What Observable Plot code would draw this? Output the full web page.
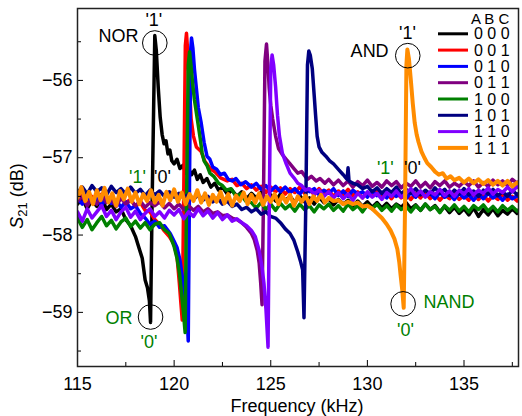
<!DOCTYPE html>
<html><head><meta charset="utf-8">
<script src="https://cdn.jsdelivr.net/npm/d3@7"></script>
<script src="https://cdn.jsdelivr.net/npm/@observablehq/plot@0.6"></script>
<style>body{margin:0;background:#fff} svg{display:block}</style>
</head><body><div id="chart"></div>
<script>
// Input states (A B C) and their colours
const states = ["0 0 0","0 0 1","0 1 0","0 1 1","1 0 0","1 0 1","1 1 0","1 1 1"];
const colors = ["#000000","#ff0000","#0000ff","#800080","#008000","#000080","#8000ff","#ff8c00"];

// [frequency kHz, S21 dB]
const s000 = [[115.00,-57.60],[115.25,-57.52],[115.50,-57.66],[115.75,-57.55],[116.00,-57.63],[116.25,-57.51],[116.50,-57.67],[116.75,-57.60],[117.00,-57.70],[117.25,-57.66],[117.50,-57.80],[117.75,-57.88],[118.00,-58.02],[118.20,-58.18],[118.35,-58.30],[118.50,-58.58],[118.62,-58.68],[118.72,-58.85],[118.78,-59.13],[118.86,-57.60],[119.00,-55.42],[119.08,-55.62],[119.18,-56.10],[119.28,-56.48],[119.38,-56.70],[119.48,-56.82],[119.58,-56.78],[119.68,-56.95],[119.78,-56.90],[119.88,-57.04],[120.00,-57.08],[120.15,-57.02],[120.30,-57.14],[120.45,-57.10],[120.60,-57.20],[120.75,-57.14],[120.90,-57.22],[121.05,-57.16],[121.20,-57.28],[121.35,-57.22],[121.50,-57.32],[121.70,-57.27],[121.90,-57.38],[122.10,-57.33],[122.30,-57.42],[122.50,-57.38],[122.75,-57.47],[123.00,-57.42],[123.25,-57.50],[123.50,-57.44],[123.75,-57.53],[124.00,-57.46],[124.25,-57.52],[124.50,-57.45],[124.75,-57.54],[125.00,-57.48],[125.25,-57.56],[125.50,-57.47],[125.75,-57.55],[126.00,-57.50],[126.25,-57.58],[126.50,-57.49],[126.75,-57.57],[127.00,-57.52],[127.25,-57.60],[127.50,-57.51],[127.75,-57.58],[128.00,-57.53],[128.25,-57.61],[128.50,-57.54],[128.75,-57.60],[129.00,-57.55],[129.25,-57.62],[129.50,-57.56],[129.75,-57.63],[130.00,-57.57],[130.25,-57.64],[130.50,-57.58],[130.75,-57.65],[131.00,-57.59],[131.25,-57.66],[131.50,-57.60],[131.75,-57.64],[132.00,-57.58],[132.25,-57.66],[132.50,-57.61],[132.75,-57.68],[133.00,-57.60],[133.25,-57.67],[133.50,-57.62],[133.75,-57.70],[134.00,-57.63],[134.25,-57.71],[134.50,-57.64],[134.75,-57.72],[135.00,-57.66],[135.25,-57.74],[135.50,-57.65],[135.75,-57.76],[136.00,-57.67],[136.25,-57.74],[136.50,-57.66],[136.75,-57.75],[137.00,-57.68],[137.25,-57.73],[137.50,-57.66],[137.75,-57.72],[138.00,-57.68]];

const s001 = [[115.00,-57.55],[115.25,-57.48],[115.50,-57.60],[115.75,-57.50],[116.00,-57.58],[116.25,-57.47],[116.50,-57.56],[116.75,-57.52],[117.00,-57.61],[117.25,-57.50],[117.50,-57.58],[117.75,-57.54],[118.00,-57.63],[118.25,-57.58],[118.50,-57.68],[118.75,-57.70],[119.00,-57.80],[119.25,-57.86],[119.50,-57.95],[119.75,-58.02],[120.00,-58.12],[120.15,-58.28],[120.27,-58.62],[120.35,-58.88],[120.42,-59.10],[120.50,-57.40],[120.58,-55.55],[120.64,-55.39],[120.72,-55.70],[120.80,-56.10],[120.88,-56.50],[121.00,-56.72],[121.15,-56.86],[121.40,-56.92],[121.60,-57.05],[121.90,-57.15],[122.10,-57.18],[122.40,-57.26],[122.75,-57.30],[123.00,-57.28],[123.25,-57.36],[123.50,-57.33],[123.75,-57.40],[124.00,-57.35],[124.25,-57.42],[124.50,-57.37],[124.75,-57.45],[125.00,-57.38],[125.25,-57.44],[125.50,-57.39],[125.75,-57.47],[126.00,-57.40],[126.25,-57.45],[126.50,-57.38],[126.75,-57.46],[127.00,-57.41],[127.25,-57.48],[127.50,-57.40],[127.75,-57.47],[128.00,-57.42],[128.25,-57.50],[128.50,-57.43],[128.75,-57.48],[129.00,-57.41],[129.25,-57.49],[129.50,-57.44],[129.75,-57.52],[130.00,-57.45],[130.25,-57.50],[130.50,-57.43],[130.75,-57.51],[131.00,-57.46],[131.25,-57.53],[131.50,-57.45],[131.75,-57.52],[132.00,-57.47],[132.25,-57.54],[132.50,-57.46],[132.75,-57.52],[133.00,-57.45],[133.25,-57.53],[133.50,-57.47],[133.75,-57.55],[134.00,-57.48],[134.25,-57.53],[134.50,-57.46],[134.75,-57.54],[135.00,-57.49],[135.25,-57.55],[135.50,-57.47],[135.75,-57.54],[136.00,-57.48],[136.25,-57.56],[136.50,-57.49],[136.75,-57.54],[137.00,-57.47],[137.25,-57.55],[137.50,-57.50],[137.75,-57.56],[138.00,-57.50]];

const s010 = [[115.00,-57.52],[115.25,-57.60],[115.50,-57.49],[115.75,-57.58],[116.00,-57.53],[116.25,-57.62],[116.50,-57.50],[116.75,-57.59],[117.00,-57.55],[117.25,-57.64],[117.50,-57.57],[117.75,-57.66],[118.00,-57.62],[118.25,-57.72],[118.50,-57.78],[118.75,-57.86],[119.00,-57.82],[119.25,-57.90],[119.50,-57.88],[119.80,-57.98],[120.00,-58.08],[120.15,-58.16],[120.30,-58.32],[120.40,-58.50],[120.50,-58.66],[120.60,-58.86],[120.68,-59.10],[120.73,-59.37],[120.80,-57.20],[120.86,-55.60],[120.90,-55.45],[120.97,-55.58],[121.05,-55.85],[121.15,-56.10],[121.25,-56.35],[121.40,-56.55],[121.55,-56.80],[121.70,-56.98],[121.85,-57.02],[122.00,-57.12],[122.20,-57.15],[122.40,-57.22],[122.60,-57.20],[122.80,-57.28],[123.00,-57.30],[123.20,-57.27],[123.45,-57.35],[123.70,-57.31],[124.00,-57.38],[124.25,-57.33],[124.50,-57.41],[124.75,-57.36],[125.00,-57.43],[125.25,-57.37],[125.50,-57.44],[125.75,-57.38],[126.00,-57.45],[126.25,-57.40],[126.50,-57.47],[126.75,-57.39],[127.00,-57.44],[127.25,-57.40],[127.50,-57.48],[127.75,-57.42],[128.00,-57.46],[128.25,-57.40],[128.50,-57.49],[128.75,-57.43],[129.00,-57.50],[129.25,-57.42],[129.50,-57.47],[129.75,-57.44],[130.00,-57.51],[130.25,-57.43],[130.50,-57.49],[130.75,-57.45],[131.00,-57.52],[131.25,-57.44],[131.50,-57.50],[131.75,-57.46],[132.00,-57.53],[132.25,-57.45],[132.50,-57.51],[132.75,-57.44],[133.00,-57.50],[133.25,-57.46],[133.50,-57.53],[133.75,-57.45],[134.00,-57.51],[134.25,-57.47],[134.50,-57.54],[134.75,-57.46],[135.00,-57.52],[135.25,-57.48],[135.50,-57.55],[135.75,-57.47],[136.00,-57.53],[136.25,-57.46],[136.50,-57.52],[136.75,-57.48],[137.00,-57.55],[137.25,-57.47],[137.50,-57.53],[137.75,-57.49],[138.00,-57.54]];

const s011 = [[115.00,-57.56],[115.25,-57.50],[115.50,-57.62],[115.75,-57.53],[116.00,-57.60],[116.25,-57.49],[116.50,-57.58],[116.75,-57.54],[117.00,-57.63],[117.25,-57.52],[117.50,-57.60],[117.75,-57.55],[118.00,-57.62],[118.25,-57.56],[118.50,-57.64],[118.75,-57.58],[119.00,-57.62],[119.25,-57.57],[119.50,-57.65],[119.75,-57.59],[120.00,-57.66],[120.25,-57.60],[120.50,-57.67],[120.75,-57.62],[121.00,-57.68],[121.25,-57.63],[121.50,-57.70],[121.75,-57.66],[122.00,-57.72],[122.25,-57.70],[122.50,-57.75],[122.75,-57.74],[123.00,-57.78],[123.25,-57.80],[123.50,-57.84],[123.75,-57.90],[124.00,-57.98],[124.15,-58.06],[124.30,-58.20],[124.40,-58.36],[124.48,-58.62],[124.55,-58.90],[124.62,-57.60],[124.70,-55.75],[124.78,-55.53],[124.85,-55.78],[124.92,-56.10],[125.00,-56.32],[125.10,-56.50],[125.25,-56.72],[125.40,-56.88],[125.60,-56.96],[125.80,-57.02],[126.00,-57.08],[126.20,-57.14],[126.40,-57.20],[126.60,-57.18],[126.90,-57.28],[127.10,-57.24],[127.35,-57.30],[127.55,-57.27],[127.80,-57.33],[128.00,-57.28],[128.25,-57.35],[128.50,-57.29],[128.75,-57.36],[129.00,-57.30],[129.25,-57.38],[129.50,-57.31],[129.75,-57.36],[130.00,-57.29],[130.25,-57.37],[130.50,-57.32],[130.75,-57.38],[131.00,-57.30],[131.25,-57.36],[131.50,-57.31],[131.75,-57.39],[132.00,-57.33],[132.25,-57.37],[132.50,-57.30],[132.75,-57.38],[133.00,-57.32],[133.25,-57.39],[133.50,-57.31],[133.75,-57.36],[134.00,-57.30],[134.25,-57.38],[134.50,-57.33],[134.75,-57.37],[135.00,-57.31],[135.25,-57.36],[135.50,-57.30],[135.75,-57.38],[136.00,-57.32],[136.25,-57.37],[136.50,-57.29],[136.75,-57.35],[137.00,-57.30],[137.25,-57.36],[137.50,-57.28],[137.75,-57.33],[138.00,-57.27]];

const s100 = [[115.00,-57.78],[115.25,-57.90],[115.50,-57.80],[115.75,-57.93],[116.00,-57.84],[116.25,-57.76],[116.50,-57.88],[116.75,-57.81],[117.00,-57.92],[117.25,-57.83],[117.50,-57.78],[117.75,-57.89],[118.00,-57.82],[118.25,-57.91],[118.50,-57.84],[118.75,-57.93],[119.00,-57.86],[119.25,-57.84],[119.50,-57.93],[119.75,-57.98],[120.00,-58.15],[120.15,-58.30],[120.28,-58.50],[120.40,-58.80],[120.48,-59.00],[120.57,-59.26],[120.65,-57.40],[120.73,-55.80],[120.80,-55.63],[120.87,-55.80],[120.95,-56.02],[121.05,-56.25],[121.20,-56.50],[121.35,-56.75],[121.45,-56.94],[121.55,-57.04],[121.70,-57.10],[121.85,-57.20],[122.05,-57.24],[122.30,-57.33],[122.50,-57.36],[122.70,-57.42],[122.95,-57.40],[123.20,-57.50],[123.45,-57.47],[123.70,-57.56],[124.00,-57.58],[124.25,-57.65],[124.50,-57.58],[124.75,-57.67],[125.00,-57.60],[125.25,-57.68],[125.50,-57.59],[125.75,-57.66],[126.00,-57.61],[126.25,-57.69],[126.50,-57.60],[126.75,-57.67],[127.00,-57.62],[127.25,-57.70],[127.50,-57.61],[127.75,-57.66],[128.00,-57.60],[128.25,-57.68],[128.50,-57.62],[128.75,-57.69],[129.00,-57.60],[129.25,-57.67],[129.50,-57.62],[129.75,-57.70],[130.00,-57.61],[130.25,-57.66],[130.50,-57.60],[130.75,-57.68],[131.00,-57.62],[131.25,-57.69],[131.50,-57.61],[131.75,-57.67],[132.00,-57.63],[132.25,-57.70],[132.50,-57.62],[132.75,-57.68],[133.00,-57.60],[133.25,-57.67],[133.50,-57.63],[133.75,-57.71],[134.00,-57.62],[134.25,-57.68],[134.50,-57.61],[134.75,-57.69],[135.00,-57.63],[135.25,-57.70],[135.50,-57.62],[135.75,-57.67],[136.00,-57.61],[136.25,-57.69],[136.50,-57.63],[136.75,-57.70],[137.00,-57.62],[137.25,-57.68],[137.50,-57.63],[137.75,-57.69],[138.00,-57.64]];

const s101 = [[115.00,-57.45],[115.25,-57.38],[115.50,-57.47],[115.75,-57.36],[116.00,-57.44],[116.25,-57.39],[116.50,-57.48],[116.75,-57.37],[117.00,-57.45],[117.25,-57.40],[117.50,-57.47],[117.75,-57.38],[118.00,-57.46],[118.25,-57.41],[118.50,-57.49],[118.75,-57.42],[119.00,-57.48],[119.25,-57.43],[119.50,-57.50],[119.75,-57.44],[120.00,-57.51],[120.25,-57.46],[120.50,-57.52],[120.75,-57.47],[121.00,-57.54],[121.25,-57.48],[121.50,-57.55],[121.75,-57.50],[122.00,-57.57],[122.25,-57.52],[122.50,-57.60],[122.75,-57.56],[123.00,-57.63],[123.25,-57.60],[123.50,-57.67],[123.75,-57.64],[124.00,-57.70],[124.25,-57.66],[124.50,-57.73],[124.75,-57.70],[125.00,-57.76],[125.25,-57.78],[125.50,-57.84],[125.75,-57.92],[126.00,-57.98],[126.20,-58.07],[126.40,-58.22],[126.55,-58.35],[126.65,-58.45],[126.72,-59.07],[126.82,-57.50],[126.90,-55.80],[126.97,-55.62],[127.05,-55.68],[127.15,-55.85],[127.25,-56.20],[127.32,-56.45],[127.40,-56.72],[127.50,-56.86],[127.65,-56.93],[127.85,-56.98],[128.05,-57.04],[128.25,-57.08],[128.50,-57.15],[128.75,-57.22],[128.95,-57.28],[129.00,-57.13],[129.05,-57.30],[129.25,-57.33],[129.50,-57.35],[129.75,-57.40],[130.00,-57.37],[130.25,-57.44],[130.50,-57.39],[130.75,-57.46],[131.00,-57.40],[131.25,-57.45],[131.50,-57.38],[131.75,-57.47],[132.00,-57.41],[132.25,-57.46],[132.50,-57.40],[132.75,-57.48],[133.00,-57.42],[133.25,-57.47],[133.50,-57.39],[133.75,-57.46],[134.00,-57.41],[134.25,-57.49],[134.50,-57.42],[134.75,-57.47],[135.00,-57.40],[135.25,-57.48],[135.50,-57.43],[135.75,-57.50],[136.00,-57.42],[136.25,-57.47],[136.50,-57.41],[136.75,-57.49],[137.00,-57.44],[137.25,-57.50],[137.50,-57.42],[137.75,-57.48],[138.00,-57.43]];

const s110 = [[115.00,-57.70],[115.25,-57.82],[115.50,-57.66],[115.75,-57.78],[116.00,-57.70],[116.25,-57.62],[116.50,-57.76],[116.75,-57.68],[117.00,-57.80],[117.25,-57.70],[117.50,-57.64],[117.75,-57.77],[118.00,-57.69],[118.25,-57.80],[118.50,-57.72],[118.75,-57.66],[119.00,-57.76],[119.25,-57.70],[119.50,-57.78],[119.75,-57.68],[120.00,-57.74],[120.25,-57.67],[120.50,-57.79],[120.75,-57.70],[121.00,-57.76],[121.25,-57.66],[121.50,-57.75],[121.75,-57.69],[122.00,-57.78],[122.25,-57.71],[122.50,-57.80],[122.75,-57.74],[123.00,-57.82],[123.25,-57.79],[123.50,-57.84],[123.75,-57.88],[124.00,-57.94],[124.20,-58.02],[124.40,-58.20],[124.55,-58.42],[124.65,-58.63],[124.75,-58.95],[124.86,-59.45],[124.93,-57.50],[125.00,-55.85],[125.07,-55.67],[125.15,-55.80],[125.25,-56.08],[125.35,-56.45],[125.45,-56.72],[125.60,-56.94],[125.80,-57.08],[126.00,-57.20],[126.20,-57.26],[126.40,-57.33],[126.60,-57.36],[126.80,-57.42],[127.00,-57.40],[127.25,-57.47],[127.50,-57.42],[127.75,-57.50],[128.00,-57.44],[128.25,-57.52],[128.50,-57.45],[128.75,-57.53],[129.00,-57.47],[129.25,-57.55],[129.50,-57.46],[129.75,-57.52],[130.00,-57.44],[130.25,-57.51],[130.50,-57.46],[130.75,-57.54],[131.00,-57.45],[131.25,-57.50],[131.50,-57.43],[131.75,-57.51],[132.00,-57.46],[132.25,-57.40],[132.50,-57.49],[132.75,-57.43],[133.00,-57.51],[133.25,-57.44],[133.50,-57.48],[133.75,-57.41],[134.00,-57.49],[134.25,-57.43],[134.50,-57.50],[134.75,-57.42],[135.00,-57.47],[135.25,-57.40],[135.50,-57.48],[135.75,-57.42],[136.00,-57.46],[136.25,-57.39],[136.50,-57.47],[136.75,-57.41],[137.00,-57.45],[137.25,-57.38],[137.50,-57.44],[137.75,-57.37],[138.00,-57.43]];

const s111 = [[115.00,-57.52],[115.20,-57.38],[115.40,-57.56],[115.60,-57.44],[115.80,-57.60],[116.00,-57.42],[116.20,-57.55],[116.40,-57.39],[116.60,-57.58],[116.80,-57.46],[117.00,-57.62],[117.20,-57.43],[117.40,-57.54],[117.60,-57.40],[117.80,-57.57],[118.00,-57.45],[118.20,-57.60],[118.40,-57.47],[118.60,-57.56],[118.80,-57.42],[119.00,-57.58],[119.20,-57.48],[119.40,-57.62],[119.60,-57.44],[119.80,-57.55],[120.00,-57.41],[120.20,-57.57],[120.40,-57.45],[120.60,-57.60],[120.80,-57.47],[121.00,-57.56],[121.20,-57.42],[121.40,-57.58],[121.60,-57.46],[121.80,-57.61],[122.00,-57.48],[122.20,-57.57],[122.40,-57.44],[122.60,-57.59],[122.80,-57.47],[123.00,-57.62],[123.20,-57.49],[123.40,-57.56],[123.60,-57.45],[123.80,-57.60],[124.00,-57.48],[124.20,-57.58],[124.40,-57.46],[124.60,-57.61],[124.80,-57.50],[125.00,-57.57],[125.20,-57.47],[125.40,-57.60],[125.60,-57.49],[125.80,-57.58],[126.00,-57.48],[126.20,-57.62],[126.40,-57.50],[126.60,-57.57],[126.80,-57.49],[127.00,-57.60],[127.20,-57.50],[127.40,-57.56],[127.60,-57.48],[127.80,-57.58],[128.00,-57.52],[128.25,-57.56],[128.50,-57.55],[128.75,-57.60],[129.00,-57.57],[129.25,-57.60],[129.50,-57.58],[129.75,-57.63],[130.00,-57.62],[130.25,-57.66],[130.50,-57.72],[130.75,-57.78],[131.00,-57.86],[131.20,-57.94],[131.40,-58.05],[131.55,-58.18],[131.65,-58.35],[131.72,-58.52],[131.80,-58.70],[131.88,-58.94],[131.95,-57.60],[132.02,-55.80],[132.07,-55.60],[132.15,-55.72],[132.25,-56.00],[132.35,-56.30],[132.45,-56.55],[132.55,-56.70],[132.65,-56.80],[132.80,-56.92],[132.95,-57.00],[133.10,-57.07],[133.30,-57.12],[133.50,-57.18],[133.70,-57.22],[133.90,-57.20],[134.10,-57.27],[134.30,-57.24],[134.50,-57.29],[134.75,-57.26],[135.00,-57.32],[135.25,-57.27],[135.50,-57.33],[135.75,-57.28],[136.00,-57.34],[136.25,-57.29],[136.50,-57.35],[136.75,-57.30],[137.00,-57.36],[137.25,-57.30],[137.50,-57.37],[137.75,-57.32],[138.00,-57.36]];

const series = [s000, s001, s010, s011, s100, s101, s110, s111];

// Axis ticks
const xMajorTicks = [115, 120, 125, 130, 135];
const xMinorTicks = [117.5, 122.5, 127.5, 132.5, 137.5];
const yMajorTicks = [-59, -58, -57, -56];
const yMinorTicks = [-59.5, -58.5, -57.5, -56.5, -55.5];

// Annotations (data coordinates)
const labelsMiddle = [
  {f:118.95, v:-55.22, t:"'1'", c:"#000"},
  {f:118.70, v:-59.39, t:"'0'", c:"#008000"},
  {f:118.10, v:-57.25, t:"'1'", c:"#008000"},
  {f:119.40, v:-57.25, t:"'0'", c:"#000"},
  {f:132.07, v:-55.39, t:"'1'", c:"#000"},
  {f:131.97, v:-59.23, t:"'0'", c:"#008000"},
  {f:130.93, v:-57.14, t:"'1'", c:"#008000"},
  {f:132.33, v:-57.14, t:"'0'", c:"#000"}
];
const labelsEnd = [
  {f:118.16, v:-55.43, t:"NOR", c:"#000"},
  {f:117.85, v:-59.08, t:"OR", c:"#008000"},
  {f:131.10, v:-55.62, t:"AND", c:"#000"}
];
const labelsStart = [
  {f:132.90, v:-58.87, t:"NAND", c:"#008000"}
];
const circles = [
  {f:119.00, v:-55.516},
  {f:118.78, v:-59.06},
  {f:132.09, v:-55.68},
  {f:131.85, v:-58.89}
];

const W = 522, H = 416;
const plot = Plot.plot({
  width: W, height: H,
  marginLeft: 77, marginRight: 4, marginTop: 8, marginBottom: 50,
  style: {fontFamily: "'Liberation Sans', Arial, sans-serif", fontSize: "18px", color: "#000", background: "#fff"},
  x: {domain: [115, 137.82], label: null},
  y: {domain: [-59.7, -55.07], label: null},
  marks: [
    ...series.map((s, i) => Plot.line(s, {
      x: d => d[0], y: d => d[1], stroke: colors[i],
      strokeWidth: i === 7 ? 4 : 3.5, strokeLinejoin: "round", clip: true
    })),
    Plot.dot(circles, {x: "f", y: "v", r: 12.3, stroke: "#000", strokeWidth: 1, fill: "none"}),
    Plot.text(labelsMiddle, {x: "f", y: "v", text: "t", fill: "c", fontSize: 18, textAnchor: "middle"}),
    Plot.text(labelsEnd, {x: "f", y: "v", text: "t", fill: "c", fontSize: 18, textAnchor: "end"}),
    Plot.text(labelsStart, {x: "f", y: "v", text: "t", fill: "c", fontSize: 18, textAnchor: "start"}),
    Plot.axisX({ticks: xMajorTicks, tickSize: -6, tickPadding: 17, tickFormat: d3.format("d"), fontSize: 18, label: null}),
    Plot.axisX({ticks: xMinorTicks, tickSize: -4, tickFormat: () => "", label: null}),
    Plot.axisY({ticks: yMajorTicks, tickSize: -6, tickPadding: 11, tickFormat: d3.format("d"), fontSize: 18, label: null}),
    Plot.axisY({ticks: yMinorTicks, tickSize: -4, tickFormat: () => "", label: null}),
    Plot.frame({stroke: "#222", strokeWidth: 1.5})
  ]
});
document.getElementById("chart").append(plot);

// Axis titles and legend
const svg = d3.select(plot);
const font = "'Liberation Sans', Arial, sans-serif";
svg.append("text").attr("x", 297).attr("y", 412).attr("text-anchor", "middle")
  .attr("font-family", font).attr("font-size", 18).attr("fill", "#000").text("Frequency (kHz)");
const yl = svg.append("text").attr("transform", "translate(23,196) rotate(-90)").attr("text-anchor", "middle")
  .attr("font-family", font).attr("font-size", 18).attr("fill", "#000");
yl.append("tspan").attr("font-style", "italic").text("S");
yl.append("tspan").attr("font-size", 13).attr("dy", 4).text("21");
yl.append("tspan").attr("dy", -4).text(" (dB)");

const lg = svg.append("g").attr("font-family", font).attr("font-size", 16).attr("fill", "#000")
  .attr("text-anchor", "start");
lg.append("text").attr("x", 471).attr("y", 18.5).attr("dy", "0.35em").attr("font-size", 15).text("A B C");
states.forEach((s, i) => {
  const y = 33.8 + i * 16.3;
  lg.append("line").attr("x1", 438).attr("x2", 468).attr("y1", y).attr("y2", y)
    .attr("stroke", colors[i]).attr("stroke-width", i === 7 ? 4 : 3);
  lg.append("text").attr("x", 474).attr("y", y).attr("dy", "0.35em").text(s);
});
</script>
</body></html>
